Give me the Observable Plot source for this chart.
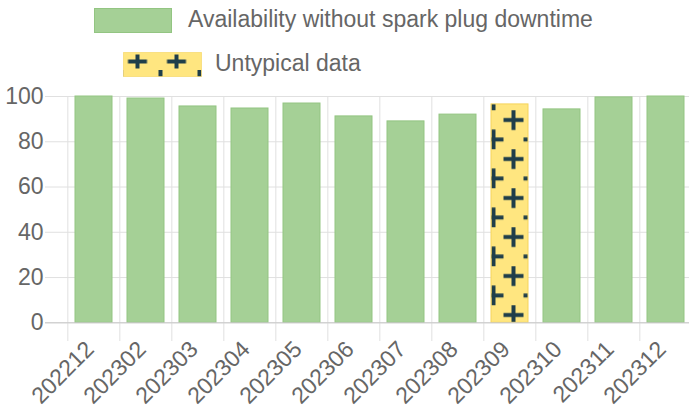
<!DOCTYPE html>
<html>
<head>
<meta charset="utf-8">
<script src="https://cdn.jsdelivr.net/npm/d3@7"></script>
<script src="https://cdn.jsdelivr.net/npm/@observablehq/plot@0.6"></script>
<style>
  html, body { margin: 0; padding: 0; background: #fff; }
  #legend { position: relative; width: 689px; height: 86px; font-family: "Liberation Sans", Arial, sans-serif; font-size: 23px; color: #666; }
  #legend .sw { position: absolute; box-sizing: border-box; }
  #legend .lab { position: absolute; line-height: 23px; white-space: nowrap; }
  #chart svg { display: block; overflow: visible; }
</style>
</head>
<body>
<div id="legend"></div>
<div id="chart"></div>
<script>
// ---- data ----
const months = ["202212", "202302", "202303", "202304", "202305", "202306", "202307", "202308", "202309", "202310", "202311", "202312"];
const availability = [100, 99.1, 95.6, 94.7, 96.9, 91.2, 89.0, 92.0, 96.5, 94.3, 99.6, 100];
const untypicalMonths = ["202309"];
const yTicks = [0, 20, 40, 60, 80, 100];
const legendLabels = ["Availability without spark plug downtime", "Untypical data"];

// ---- styles ----
const green = "#a5d096", greenBorder = "#93c582";
const yellow = "#ffe680", yellowBorder = "#f5d45c";
const plusColor = "#1f3e4a";
const gridColor = "#e0e0e0";

const data = months.map((m, i) => ({month: m, value: availability[i], untypical: untypicalMonths.includes(m)}));

// ---- legend ----
const legend = d3.select("#legend");
legend.append("div").attr("class", "sw")
  .style("left", "94px").style("top", "8px").style("width", "78px").style("height", "25px")
  .style("background", green).style("border", `1px solid ${greenBorder}`);
legend.append("div").attr("class", "lab").style("left", "188px").style("top", "7.5px").text(legendLabels[0]);

const sw = legend.append("svg").attr("class", "sw")
  .style("left", "123px").style("top", "52px").attr("width", 79).attr("height", 25);
const lp = sw.append("defs").append("pattern").attr("id", "plusLegend")
  .attr("patternUnits", "userSpaceOnUse").attr("width", 39).attr("height", 40).attr("x", 4.5).attr("y", 0);
lp.append("rect").attr("width", 39).attr("height", 40).attr("fill", yellow);
lp.append("path").attr("d", "M0.5,9.5H19.5M10,2.5V16.5").attr("stroke", plusColor).attr("stroke-width", 4).attr("fill", "none");
lp.append("path").attr("d", "M33,18V32").attr("stroke", plusColor).attr("stroke-width", 4).attr("fill", "none");
sw.append("rect").attr("x", 0.5).attr("y", 0.5).attr("width", 78).attr("height", 24)
  .attr("fill", "url(#plusLegend)").attr("stroke", yellowBorder).attr("stroke-opacity", 0.6);
legend.append("div").attr("class", "lab").style("left", "215px").style("top", "51.5px").text(legendLabels[1]);

// ---- chart ----
const xRange = [66, 693.84];
const step = (xRange[1] - xRange[0]) / months.length;

function patternDefs() {
  const defs = d3.create("svg:defs");
  const p = defs.append("pattern").attr("id", "plusPattern")
    .attr("patternUnits", "userSpaceOnUse").attr("width", 40).attr("height", 39)
    .attr("x", 503.5).attr("y", 24.25);
  p.append("rect").attr("width", 40).attr("height", 39).attr("fill", yellow);
  for (const [cx, cy] of [[10, 9.75], [30, 29.25]]) {
    p.append("path").attr("d", `M${cx - 10},${cy}H${cx + 10}M${cx},${cy - 10}V${cy + 10}`)
      .attr("stroke", plusColor).attr("stroke-width", 4).attr("fill", "none");
  }
  return defs.node();
}

const chart = Plot.plot({
  width: 689,
  height: 326,
  marginTop: 10,
  marginBottom: 90,
  marginLeft: 66,
  marginRight: 0,
  style: {fontFamily: "'Liberation Sans', Arial, sans-serif", fontSize: "23px", color: "#666", background: "#fff"},
  x: {domain: months, range: xRange, paddingInner: 0.28, paddingOuter: 0.14, align: 0.5},
  y: {domain: [0, 100], range: [236.3, 10]},
  marks: [
    patternDefs,
    Plot.ruleY(yTicks, {y: d => d, stroke: gridColor, strokeOpacity: 1, insetLeft: -21}),
    Plot.ruleX(months, {x: d => d, dx: -step / 2, stroke: gridColor, strokeOpacity: 1, insetBottom: -19}),
    Plot.barY(data.filter(d => !d.untypical), {x: "month", y: "value", fill: green, stroke: greenBorder, strokeWidth: 1}),
    Plot.barY(data.filter(d => d.untypical), {x: "month", y: "value", fill: "url(#plusPattern)", stroke: yellowBorder, strokeWidth: 1}),
    Plot.ruleY([0], {stroke: "#c8c8c8", strokeOpacity: 1, insetLeft: -21}),
    Plot.axisY({ticks: yTicks, tickSize: 0, tickPadding: 23, fill: "#666", fontSize: 23, label: null}),
    Plot.axisX({tickSize: 0, tickPadding: 20, tickRotate: -45, dx: -4, dy: 3, fill: "#666", fontSize: 23, label: null})
  ]
});
document.getElementById("chart").appendChild(chart);
</script>
</body>
</html>
